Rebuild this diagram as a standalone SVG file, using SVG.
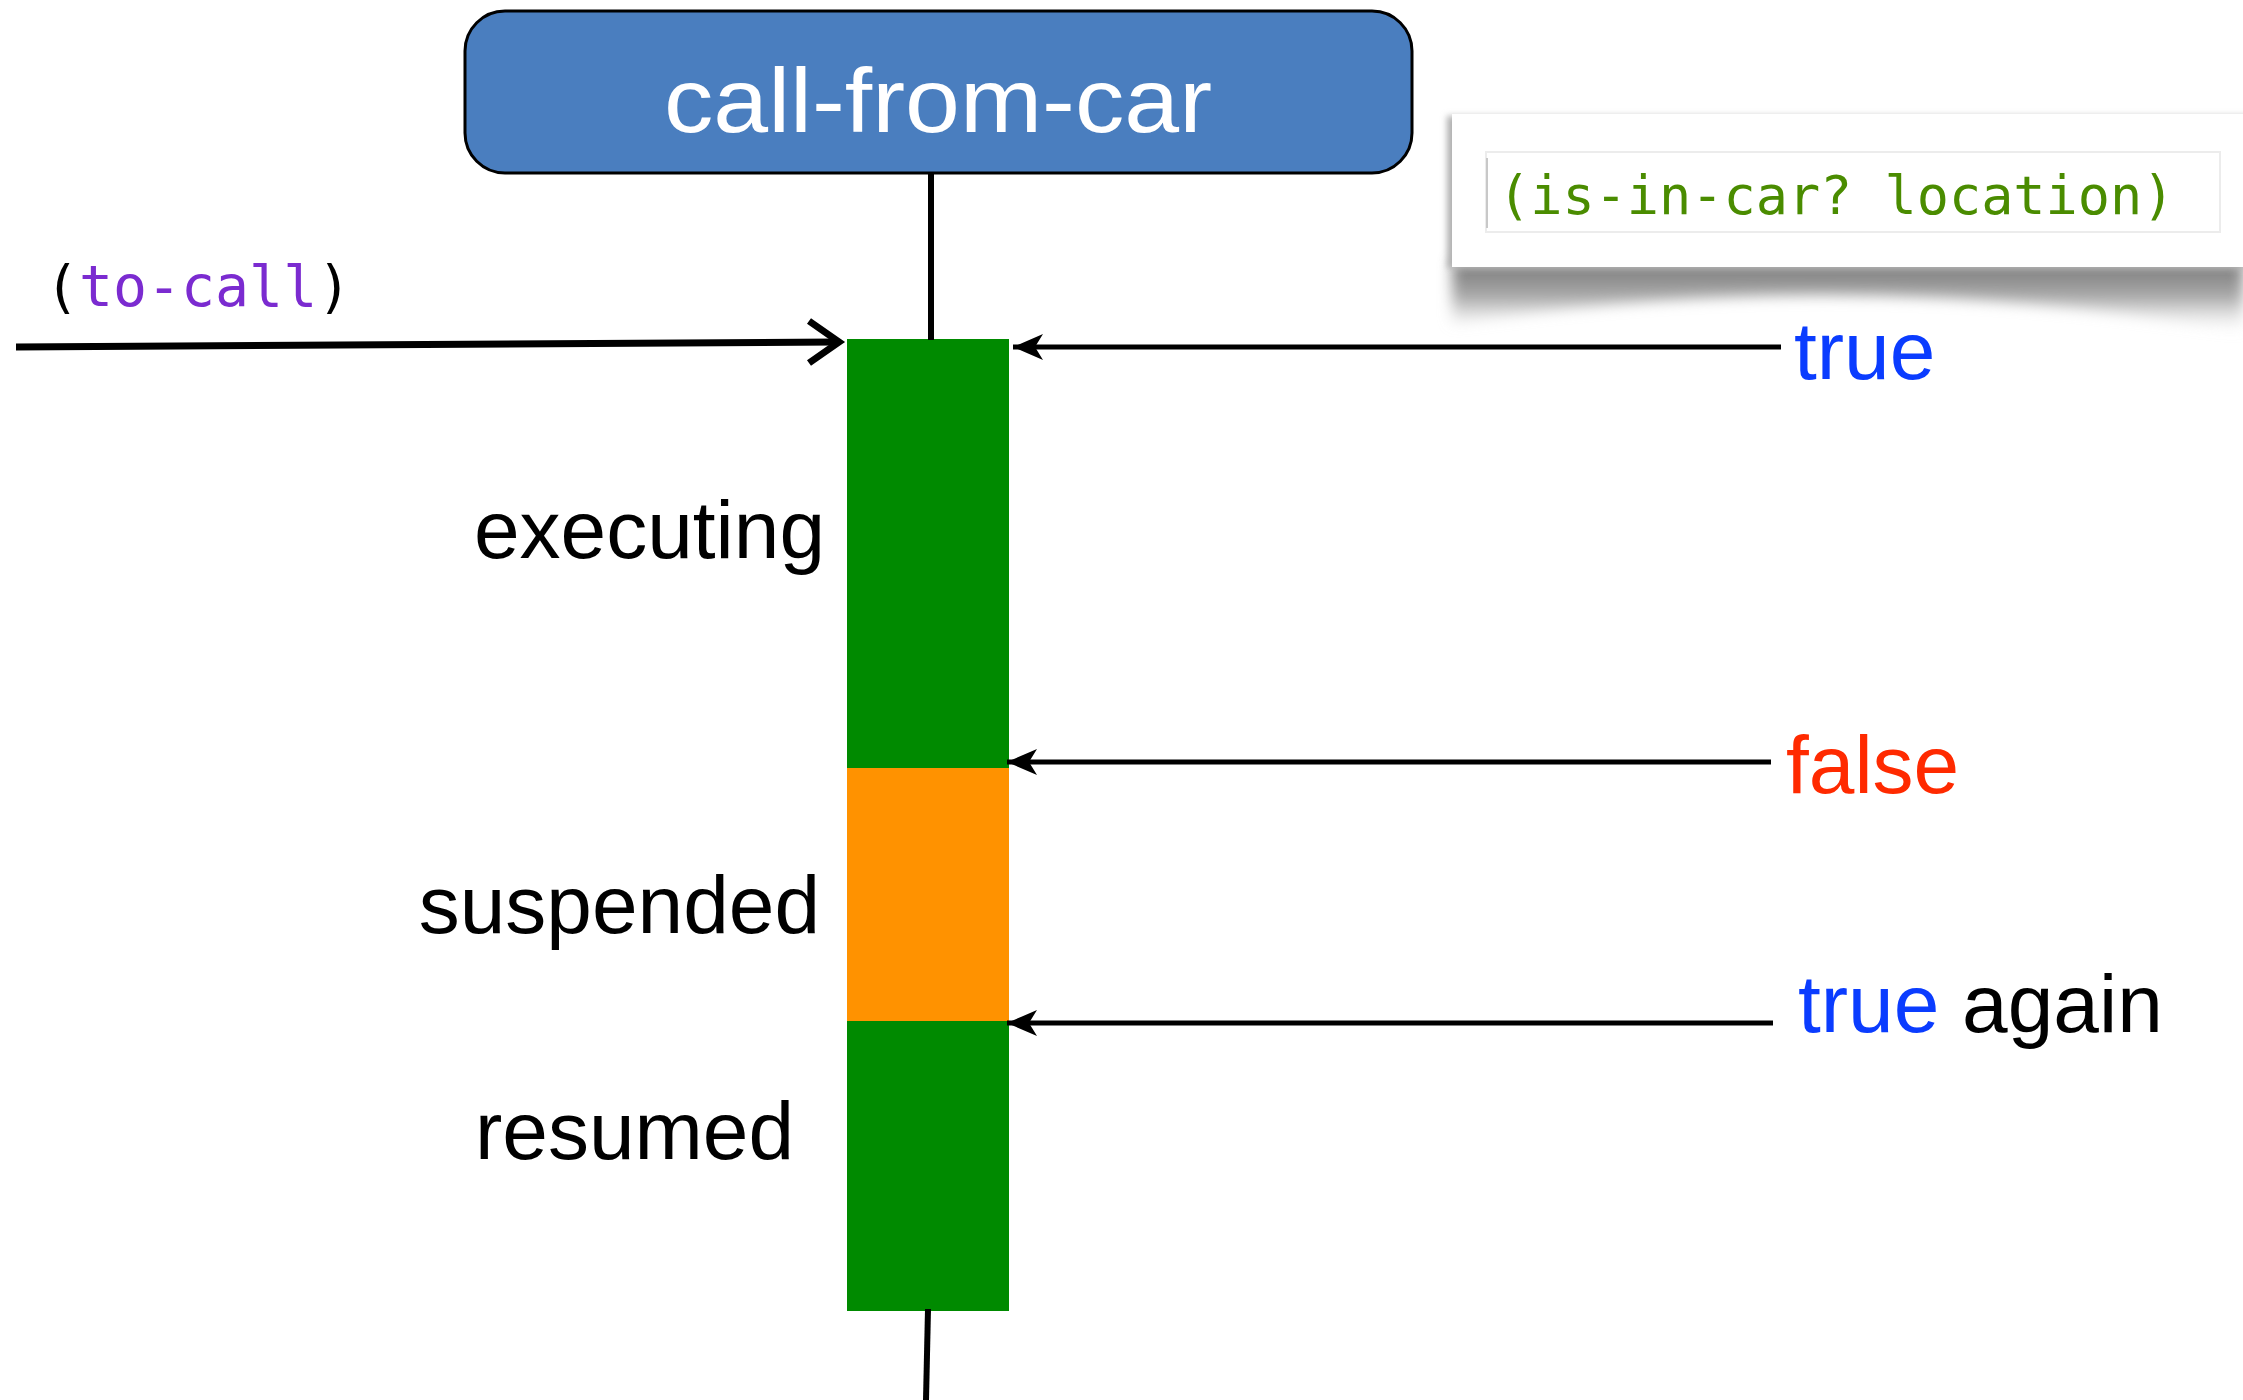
<svg xmlns="http://www.w3.org/2000/svg" width="2243" height="1400" viewBox="0 0 2243 1400">
<defs>
<style>
.lbl{font-family:"Liberation Sans",Arial,sans-serif;font-size:82px;fill:#000}
.mono{font-family:"DejaVu Sans Mono","Liberation Mono",monospace}
.conn{stroke:#000;fill:none}
</style>
<marker id="barb" markerUnits="userSpaceOnUse" markerWidth="40" markerHeight="40" refX="0" refY="0" viewBox="-34 -20 40 40" orient="auto">
<path d="M0,0 L-30,-13 L-22,0 L-30,13 Z" fill="#000"/>
</marker>
<filter id="blur" x="-10%" y="-50%" width="120%" height="200%">
<feGaussianBlur stdDeviation="7"/>
</filter>
<filter id="edge" x="-5%" y="-20%" width="110%" height="140%">
<feGaussianBlur stdDeviation="3"/>
</filter>
<linearGradient id="shg" x1="0" y1="0" x2="0" y2="1">
<stop offset="0" stop-color="#777"/>
<stop offset="0.5" stop-color="#aaa"/>
<stop offset="1" stop-color="#e0e0e0" stop-opacity="0"/>
</linearGradient>
</defs>

<g id="note">
<path d="M1452,262 L2243,262 L2243,332 Q1850,262 1452,324 Z" fill="url(#shg)" filter="url(#blur)"/>
<rect x="1447" y="116" width="810" height="152" fill="#b0b0b0" filter="url(#edge)"/>
<rect x="1452" y="114" width="800" height="153" fill="#fff"/>
<rect x="1486" y="152" width="734" height="80" fill="#fff" stroke="#ececec" stroke-width="2"/>
<line x1="1487" y1="158" x2="1487" y2="228" stroke="#c8c8c8" stroke-width="2"/>
<text x="1498" y="214" class="mono" font-size="53.5" fill="#4a8c00">(is-in-car? location)</text>
</g>

<g id="call-from-car">
<rect x="465" y="11" width="947" height="162" rx="40" ry="40" fill="#4a7ebf" stroke="#000" stroke-width="3"/>
<text x="938" y="132" text-anchor="middle" font-family="'Liberation Sans',Arial,sans-serif" font-size="90" fill="#fff" textLength="548" lengthAdjust="spacingAndGlyphs">call-from-car</text>
</g>

<g id="activation">
<rect x="847" y="339" width="162" height="429" fill="#008a00"/>
<rect x="847" y="768" width="162" height="253" fill="#ff9200"/>
<rect x="847" y="1021" width="162" height="290" fill="#008a00"/>
</g>

<g id="state-labels">
<text class="lbl" x="825" y="558" text-anchor="end">executing</text>
<text class="lbl" x="820" y="933" text-anchor="end">suspended</text>
<text class="lbl" x="794" y="1159" text-anchor="end">resumed</text>
</g>

<g id="call-label">
<text x="45" y="306" class="mono" font-size="56.5"><tspan fill="#000">(</tspan><tspan fill="#7b2bd0">to-call</tspan><tspan fill="#000">)</tspan></text>
</g>

<g id="result-labels">
<text class="lbl" x="1794" y="379" style="fill:#0a3cff">true</text>
<text class="lbl" x="1786" y="793" style="fill:#ff2a00">false</text>
<text class="lbl" x="1798" y="1032"><tspan style="fill:#0a3cff">true</tspan> again</text>
</g>

<g id="connectors">
<line class="conn" x1="931" y1="173" x2="931" y2="340" stroke-width="6"/>
<line class="conn" x1="928" y1="1309" x2="926" y2="1400" stroke-width="6"/>
<line class="conn" x1="16" y1="347" x2="836" y2="342" stroke-width="7"/>
<polyline class="conn" points="809,321 839,342 809,363" stroke-width="7" stroke-linejoin="miter"/>
<line class="conn" x1="1781" y1="347" x2="1013" y2="347" stroke-width="5" marker-end="url(#barb)"/>
<line class="conn" x1="1771" y1="762" x2="1007" y2="762" stroke-width="5" marker-end="url(#barb)"/>
<line class="conn" x1="1773" y1="1023" x2="1007" y2="1023" stroke-width="5" marker-end="url(#barb)"/>
</g>
</svg>
